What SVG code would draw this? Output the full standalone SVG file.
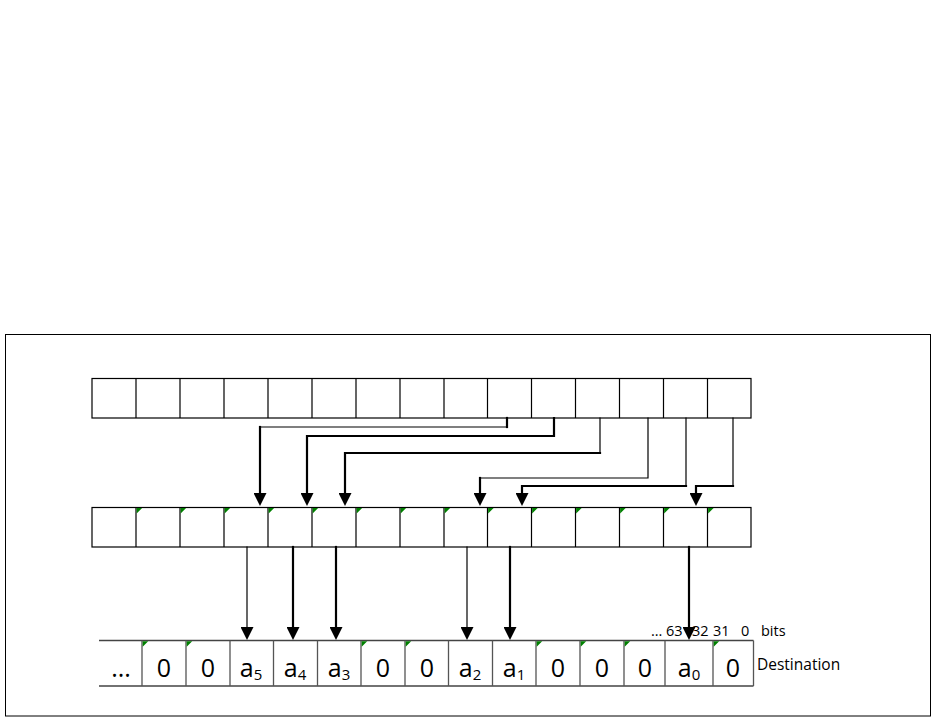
<svg xmlns="http://www.w3.org/2000/svg" width="936" height="717" viewBox="0 0 936 717">
<style>
.cell{fill:#fff;stroke:#000;stroke-width:1.2}
.div{stroke:#000;stroke-width:1.2}
.bdiv{stroke:#555;stroke-width:1.3}
.bedge{stroke:#444;stroke-width:1.6}
.tick{fill:#008000}
.thin{fill:none;stroke:#000;stroke-width:1.2;stroke-linecap:square}
.thick{fill:none;stroke:#000;stroke-width:2.2;stroke-linecap:square}
.arr{marker-end:url(#ah)}
.val{font-family:"Open Sans","Liberation Sans",sans-serif;font-size:25px;fill:#000;text-anchor:middle}
.sub{font-size:15px}
.lbl{font-family:"Open Sans","Liberation Sans",sans-serif;font-size:14.5px;fill:#000}
.dst{font-family:"Open Sans","Liberation Sans",sans-serif;font-size:15.5px;fill:#000}
</style>
<defs>
<marker id="ah" viewBox="0 0 13 13" refX="0" refY="6.5" markerWidth="13" markerHeight="13" markerUnits="userSpaceOnUse" orient="auto">
<path d="M0,0 L13,6.5 L0,13 z" fill="#000"/>
</marker>
<path id="tk" d="M0,0 h5.5 L0,5.5 z"/>
</defs>
<rect x="0" y="0" width="936" height="717" fill="#fff"/>
<rect id="frame" x="5.5" y="334.5" width="925" height="381.5" fill="none" stroke="#000" stroke-width="1"/>

<g id="source">
<rect class="cell" x="92" y="378.5" width="659" height="39.5"/>
<path class="div" d="M136,378.5V418 M180,378.5V418 M224,378.5V418 M268,378.5V418 M312,378.5V418 M356,378.5V418 M400,378.5V418 M444,378.5V418 M487.5,378.5V418 M531.5,378.5V418 M575.5,378.5V418 M619.5,378.5V418 M663.5,378.5V418 M707.5,378.5V418"/>
</g>

<g id="middle">
<rect class="cell" x="92" y="507.5" width="659" height="39.5"/>
<path class="div" d="M136,507.5V547 M180,507.5V547 M224,507.5V547 M268,507.5V547 M312,507.5V547 M356,507.5V547 M400,507.5V547 M444,507.5V547 M487.5,507.5V547 M531.5,507.5V547 M575.5,507.5V547 M619.5,507.5V547 M663.5,507.5V547 M707.5,507.5V547"/>
<g class="tick">
<use href="#tk" x="136.6" y="508.1"/><use href="#tk" x="180.6" y="508.1"/><use href="#tk" x="224.6" y="508.1"/><use href="#tk" x="268.6" y="508.1"/><use href="#tk" x="312.6" y="508.1"/><use href="#tk" x="356.6" y="508.1"/><use href="#tk" x="400.6" y="508.1"/><use href="#tk" x="444.6" y="508.1"/><use href="#tk" x="488.1" y="508.1"/><use href="#tk" x="532.1" y="508.1"/><use href="#tk" x="576.1" y="508.1"/><use href="#tk" x="620.1" y="508.1"/><use href="#tk" x="664.1" y="508.1"/><use href="#tk" x="708.1" y="508.1"/>
</g>
</g>

<g id="destination">
<rect x="99" y="640.5" width="654" height="45.5" fill="#fff"/>
<path class="bedge" d="M99,640.5H753.5 M99,686H753.5"/>
<path class="bdiv" d="M142,640.5V686 M186,640.5V686 M230,640.5V686 M273.5,640.5V686 M317.5,640.5V686 M361,640.5V686 M405,640.5V686 M448.5,640.5V686 M492.5,640.5V686 M536,640.5V686 M580,640.5V686 M624,640.5V686 M665,640.5V686 M713,640.5V686 M753.5,640.5V686"/>
<g class="tick">
<use href="#tk" x="142.7" y="641.3"/><use href="#tk" x="186.7" y="641.3"/><use href="#tk" x="361.7" y="641.3"/><use href="#tk" x="405.7" y="641.3"/><use href="#tk" x="536.7" y="641.3"/><use href="#tk" x="580.7" y="641.3"/><use href="#tk" x="624.7" y="641.3"/><use href="#tk" x="713.7" y="641.3"/>
</g>
<text class="val" x="121" y="677">...</text>
<text class="val" x="164" y="677">0</text>
<text class="val" x="208" y="677">0</text>
<text class="val" x="251" y="677">a<tspan class="sub" dy="3">5</tspan></text>
<text class="val" x="295" y="677">a<tspan class="sub" dy="3">4</tspan></text>
<text class="val" x="339" y="677">a<tspan class="sub" dy="3">3</tspan></text>
<text class="val" x="383" y="677">0</text>
<text class="val" x="427" y="677">0</text>
<text class="val" x="470" y="677">a<tspan class="sub" dy="3">2</tspan></text>
<text class="val" x="514" y="677">a<tspan class="sub" dy="3">1</tspan></text>
<text class="val" x="558" y="677">0</text>
<text class="val" x="602" y="677">0</text>
<text class="val" x="645" y="677">0</text>
<text class="val" x="689" y="677">a<tspan class="sub" dy="3">0</tspan></text>
<text class="val" x="733" y="677">0</text>
</g>

<g id="labels">
<text class="lbl" y="636"><tspan x="651">...</tspan><tspan x="666">63</tspan><tspan x="692">32</tspan><tspan x="713">31</tspan><tspan x="741">0</tspan><tspan x="761">bits</tspan></text>
<text class="dst" x="757" y="670">Destination</text>
</g>

<g id="connectors">
<path class="thick" d="M507,418V427"/>
<path class="thin" d="M507,427H260"/>
<path class="thick arr" d="M260,427V493"/>

<path class="thick arr" d="M554,418V436H307V493"/>

<path class="thin" d="M600,418V453"/>
<path class="thick arr" d="M600,453H345V493"/>

<path class="thin" d="M648,418V478H480"/>
<path class="thick arr" d="M480,478V493"/>

<path class="thin" d="M686,418V486"/>
<path class="thick arr" d="M686,486H522V493"/>

<path class="thin" d="M733,418V486"/>
<path class="thick arr" d="M733,486H696V493"/>

<path class="thin arr" d="M247,547V627"/>
<path class="thick arr" d="M293,547V627"/>
<path class="thick arr" d="M336,547V627"/>
<path class="thin arr" d="M467,547V627"/>
<path class="thick arr" d="M510,547V627"/>
<path class="thick arr" d="M689,547V627"/>
</g>
</svg>
